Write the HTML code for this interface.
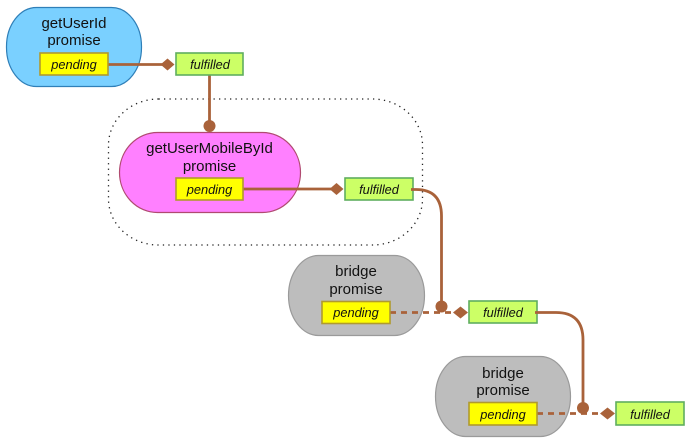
<!DOCTYPE html>
<html>
<head>
<meta charset="utf-8">
<style>
html,body{margin:0;padding:0;background:#fff;width:693px;height:445px;overflow:hidden}
svg{display:block}
text{font-family:"Liberation Sans",sans-serif;fill:#111;text-anchor:middle}
.t{font-size:15px}
.s{font-size:12.800px;font-style:italic}
.y{fill:#ffff00;stroke:#b09a2e;stroke-width:1.6}
.g{fill:#ccff66;stroke:#5fae5f;stroke-width:1.6}
.l{fill:none;stroke:#a9623a;stroke-width:2.8}
.d{fill:none;stroke:#a9623a;stroke-width:2.8;stroke-dasharray:6 5}
.m{fill:#a9623a}
</style>
</head>
<body>
<svg width="693" height="445" viewBox="0 0 693 445" xmlns="http://www.w3.org/2000/svg">
<rect x="108.500" y="99" width="314" height="146" rx="50" ry="46" fill="none" stroke="#222" stroke-width="1.3" stroke-dasharray="1.3 4.200"/>

<rect x="6.500" y="7.500" width="135" height="79" rx="30" ry="39" fill="#7ad0ff" stroke="#2f7fb8" stroke-width="1.2"/>
<rect x="119.500" y="132.500" width="181" height="80" rx="38" ry="40" fill="#ff80ff" stroke="#b04a70" stroke-width="1.2"/>
<rect x="288.500" y="255.500" width="136" height="80" rx="30" ry="40" fill="#bdbdbd" stroke="#9a9a9a" stroke-width="1.2"/>
<rect x="435.500" y="356.500" width="135" height="80" rx="30" ry="40" fill="#bdbdbd" stroke="#9a9a9a" stroke-width="1.2"/>

<path class="l" d="M108 64.500H163"/>
<path class="l" d="M209.500 75V126"/>
<path class="l" d="M243 189H332"/>
<path class="d" d="M390 312.500H453"/>
<path class="d" d="M537 413.500H601"/>

<rect class="y" x="40" y="53" width="68" height="22"/>
<rect class="g" x="176" y="53" width="67" height="22"/>
<rect class="y" x="176" y="178" width="67" height="22"/>
<rect class="g" x="345" y="178" width="68" height="22"/>
<rect class="y" x="322" y="301.500" width="68" height="22"/>
<rect class="g" x="469" y="301" width="68" height="22"/>
<rect class="y" x="469" y="402.500" width="68" height="22.500"/>
<rect class="g" x="616" y="402" width="68" height="23"/>

<path class="l" d="M411 189.500H416Q441.500 189.500 441.500 216V306"/>
<path class="l" d="M535 312.500H556Q583 312.500 583 340V408"/>

<circle class="m" cx="209.500" cy="126" r="6"/>
<circle class="m" cx="441.500" cy="306.500" r="6"/>
<circle class="m" cx="583" cy="408" r="6"/>
<path class="m" d="M160.500 64.500L167.500 58.500L174.500 64.500L167.500 70.500Z"/>
<path class="m" d="M329.500 189L336.500 183L343.500 189L336.500 195Z"/>
<path class="m" d="M453 312.500L460.500 306.500L468 312.500L460.500 318.500Z"/>
<path class="m" d="M600 413.500L607.500 407.500L615 413.500L607.500 419.500Z"/>

<text class="t" x="74" y="28">getUserId</text>
<text class="t" x="74" y="45">promise</text>
<text class="s" x="74" y="69">pending</text>
<text class="s" x="210" y="69">fulfilled</text>

<text class="t" x="209.500" y="153">getUserMobileById</text>
<text class="t" x="209.500" y="171">promise</text>
<text class="s" x="209.500" y="194">pending</text>
<text class="s" x="379" y="194">fulfilled</text>

<text class="t" x="356" y="276">bridge</text>
<text class="t" x="356" y="294">promise</text>
<text class="s" x="356" y="317">pending</text>
<text class="s" x="503" y="317">fulfilled</text>

<text class="t" x="503" y="378">bridge</text>
<text class="t" x="503" y="395">promise</text>
<text class="s" x="503" y="419">pending</text>
<text class="s" x="650" y="419">fulfilled</text>
</svg>
</body>
</html>
